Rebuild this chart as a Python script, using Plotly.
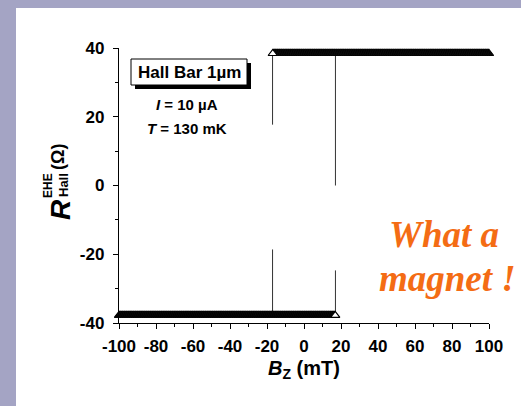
import numpy as np
import plotly.graph_objects as go

# ---- data ----
field_min, field_max = -100, 100          # mT sweep limits
sweep_step = 0.35                         # mT
switch_up = 17.0                          # mT, coercive field (up sweep)
switch_down = -17.0                       # mT, coercive field (down sweep)
r_plateau_up = 38.4                       # Ohm
r_plateau_down = -37.8                    # Ohm

# transition segments (x, y pairs)
trans_down_x = [switch_down, switch_down]
trans_down_y1 = [r_plateau_up, 17.7]
trans_down_y2 = [-18.6, r_plateau_down]
trans_up_x = [switch_up, switch_up]
trans_up_y1 = [r_plateau_up, 0.0]
trans_up_y2 = [-24.7, r_plateau_down]

x_ticks = [-100, -80, -60, -40, -20, 0, 20, 40, 60, 80, 100]
x_tick_labels = ["-100", "-80", "-60", "-40", "-20", "0", "20", "40", "60", "80", "100"]
y_ticks = [-40, -20, 0, 20, 40]
y_tick_labels = ["-40", "-20", "0", "20", "40"]

# sweep branches
upper_x = list(np.arange(field_max, switch_down - 0.01, -sweep_step))
upper_y = [r_plateau_up] * len(upper_x)
lower_x = list(np.arange(field_min, switch_up + 0.01, sweep_step))
lower_y = [r_plateau_down] * len(lower_x)

W, H = 521, 406
L, R, T, B = 119, 32, 48, 83
PW, PH = W - L - R, H - T - B


def px(x):
    return (x - L) / PW


def py(y):
    return (H - B - y) / PH


FONT = "Liberation Sans, Arial, sans-serif"

fig = go.Figure()

for xs, ys in [(trans_down_x, trans_down_y1), (trans_down_x, trans_down_y2),
               (trans_up_x, trans_up_y1), (trans_up_x, trans_up_y2)]:
    fig.add_trace(go.Scatter(x=xs, y=ys, mode="lines",
                             line=dict(color="#333333", width=1),
                             showlegend=False, hoverinfo="skip"))

for xs, ys in [(upper_x, upper_y), (lower_x, lower_y)]:
    fig.add_trace(go.Scatter(
        x=xs, y=ys, mode="markers",
        marker=dict(symbol="triangle-up", size=8, color="white",
                    line=dict(color="black", width=1.2)),
        showlegend=False, cliponaxis=False))

axis_common = dict(
    showline=True, linecolor="black", linewidth=1.3, mirror=False,
    ticks="outside", ticklen=5, tickwidth=1.2, tickcolor="black",
    showgrid=False, zeroline=False,
    tickfont=dict(family=FONT, size=17, color="black", weight="bold"),
)

fig.update_layout(
    width=W, height=H,
    margin=dict(l=L, r=R, t=T, b=B),
    paper_bgcolor="white", plot_bgcolor="white",
    xaxis=dict(range=[field_min, field_max], tickvals=x_ticks, ticktext=x_tick_labels,
               ticklabelstandoff=2,
               minor=dict(ticks="outside", ticklen=3, dtick=10, tickcolor="black", tickwidth=1),
               title=dict(text="<b><i>B</i></b><sub><b>Z</b></sub><b> (mT)</b>",
                          font=dict(family=FONT, size=20, color="black"), standoff=6),
               **axis_common),
    yaxis=dict(range=[-40, 40], tickvals=y_ticks, ticktext=y_tick_labels,
               ticklabelstandoff=5,
               minor=dict(ticks="outside", ticklen=3, dtick=10, tickcolor="black", tickwidth=1),
               **axis_common),
)

# lavender frame
fig.add_shape(type="rect", xref="paper", yref="paper", x0=px(0), x1=px(W), y0=py(8), y1=py(0),
              fillcolor="#a4a4c4", line=dict(width=0), layer="below")
fig.add_shape(type="rect", xref="paper", yref="paper", x0=px(0), x1=px(16), y0=py(H), y1=py(0),
              fillcolor="#a4a4c4", line=dict(width=0), layer="below")

# Hall bar box with shadow
fig.add_shape(type="rect", xref="paper", yref="paper", x0=px(135), x1=px(251), y0=py(89), y1=py(63),
              fillcolor="black", line=dict(width=0))
fig.add_shape(type="rect", xref="paper", yref="paper", x0=px(131), x1=px(247), y0=py(85), y1=py(59),
              fillcolor="white", line=dict(color="black", width=1))

ann = []
ann.append(dict(text="<b>Hall Bar 1µm</b>", x=px(189), y=py(72), font=dict(size=17)))
ann.append(dict(text="<b><i>I</i> = 10 µA</b>", x=px(187), y=py(104), font=dict(size=15)))
ann.append(dict(text="<b><i>T</i> = 130 mK</b>", x=px(187), y=py(128), font=dict(size=15)))
# y title
ann.append(dict(text="<b><i>R</i></b>", x=px(60), y=py(210), font=dict(size=28), textangle=-90))
ann.append(dict(text="<b>EHE</b>", x=px(48), y=py(186), font=dict(size=12), textangle=-90))
ann.append(dict(text="<b>Hall</b>", x=px(63), y=py(185), font=dict(size=13), textangle=-90))
ann.append(dict(text="<b>(Ω)</b>", x=px(58), y=py(157), font=dict(size=18), textangle=-90))
# slogan
ann.append(dict(text="<b><i>What a</i></b>", x=px(444), y=py(235),
                font=dict(size=37, family="Liberation Serif, Times New Roman, serif", color="#f46c14")))
ann.append(dict(text="<b><i>magnet !</i></b>", x=px(447), y=py(278),
                font=dict(size=37, family="Liberation Serif, Times New Roman, serif", color="#f46c14")))

for a in ann:
    f = dict(family=FONT, color="black")
    f.update(a.pop("font"))
    fig.add_annotation(xref="paper", yref="paper", showarrow=False,
                       xanchor="center", yanchor="middle", font=f, **a)

fig.write_html("out.html")
